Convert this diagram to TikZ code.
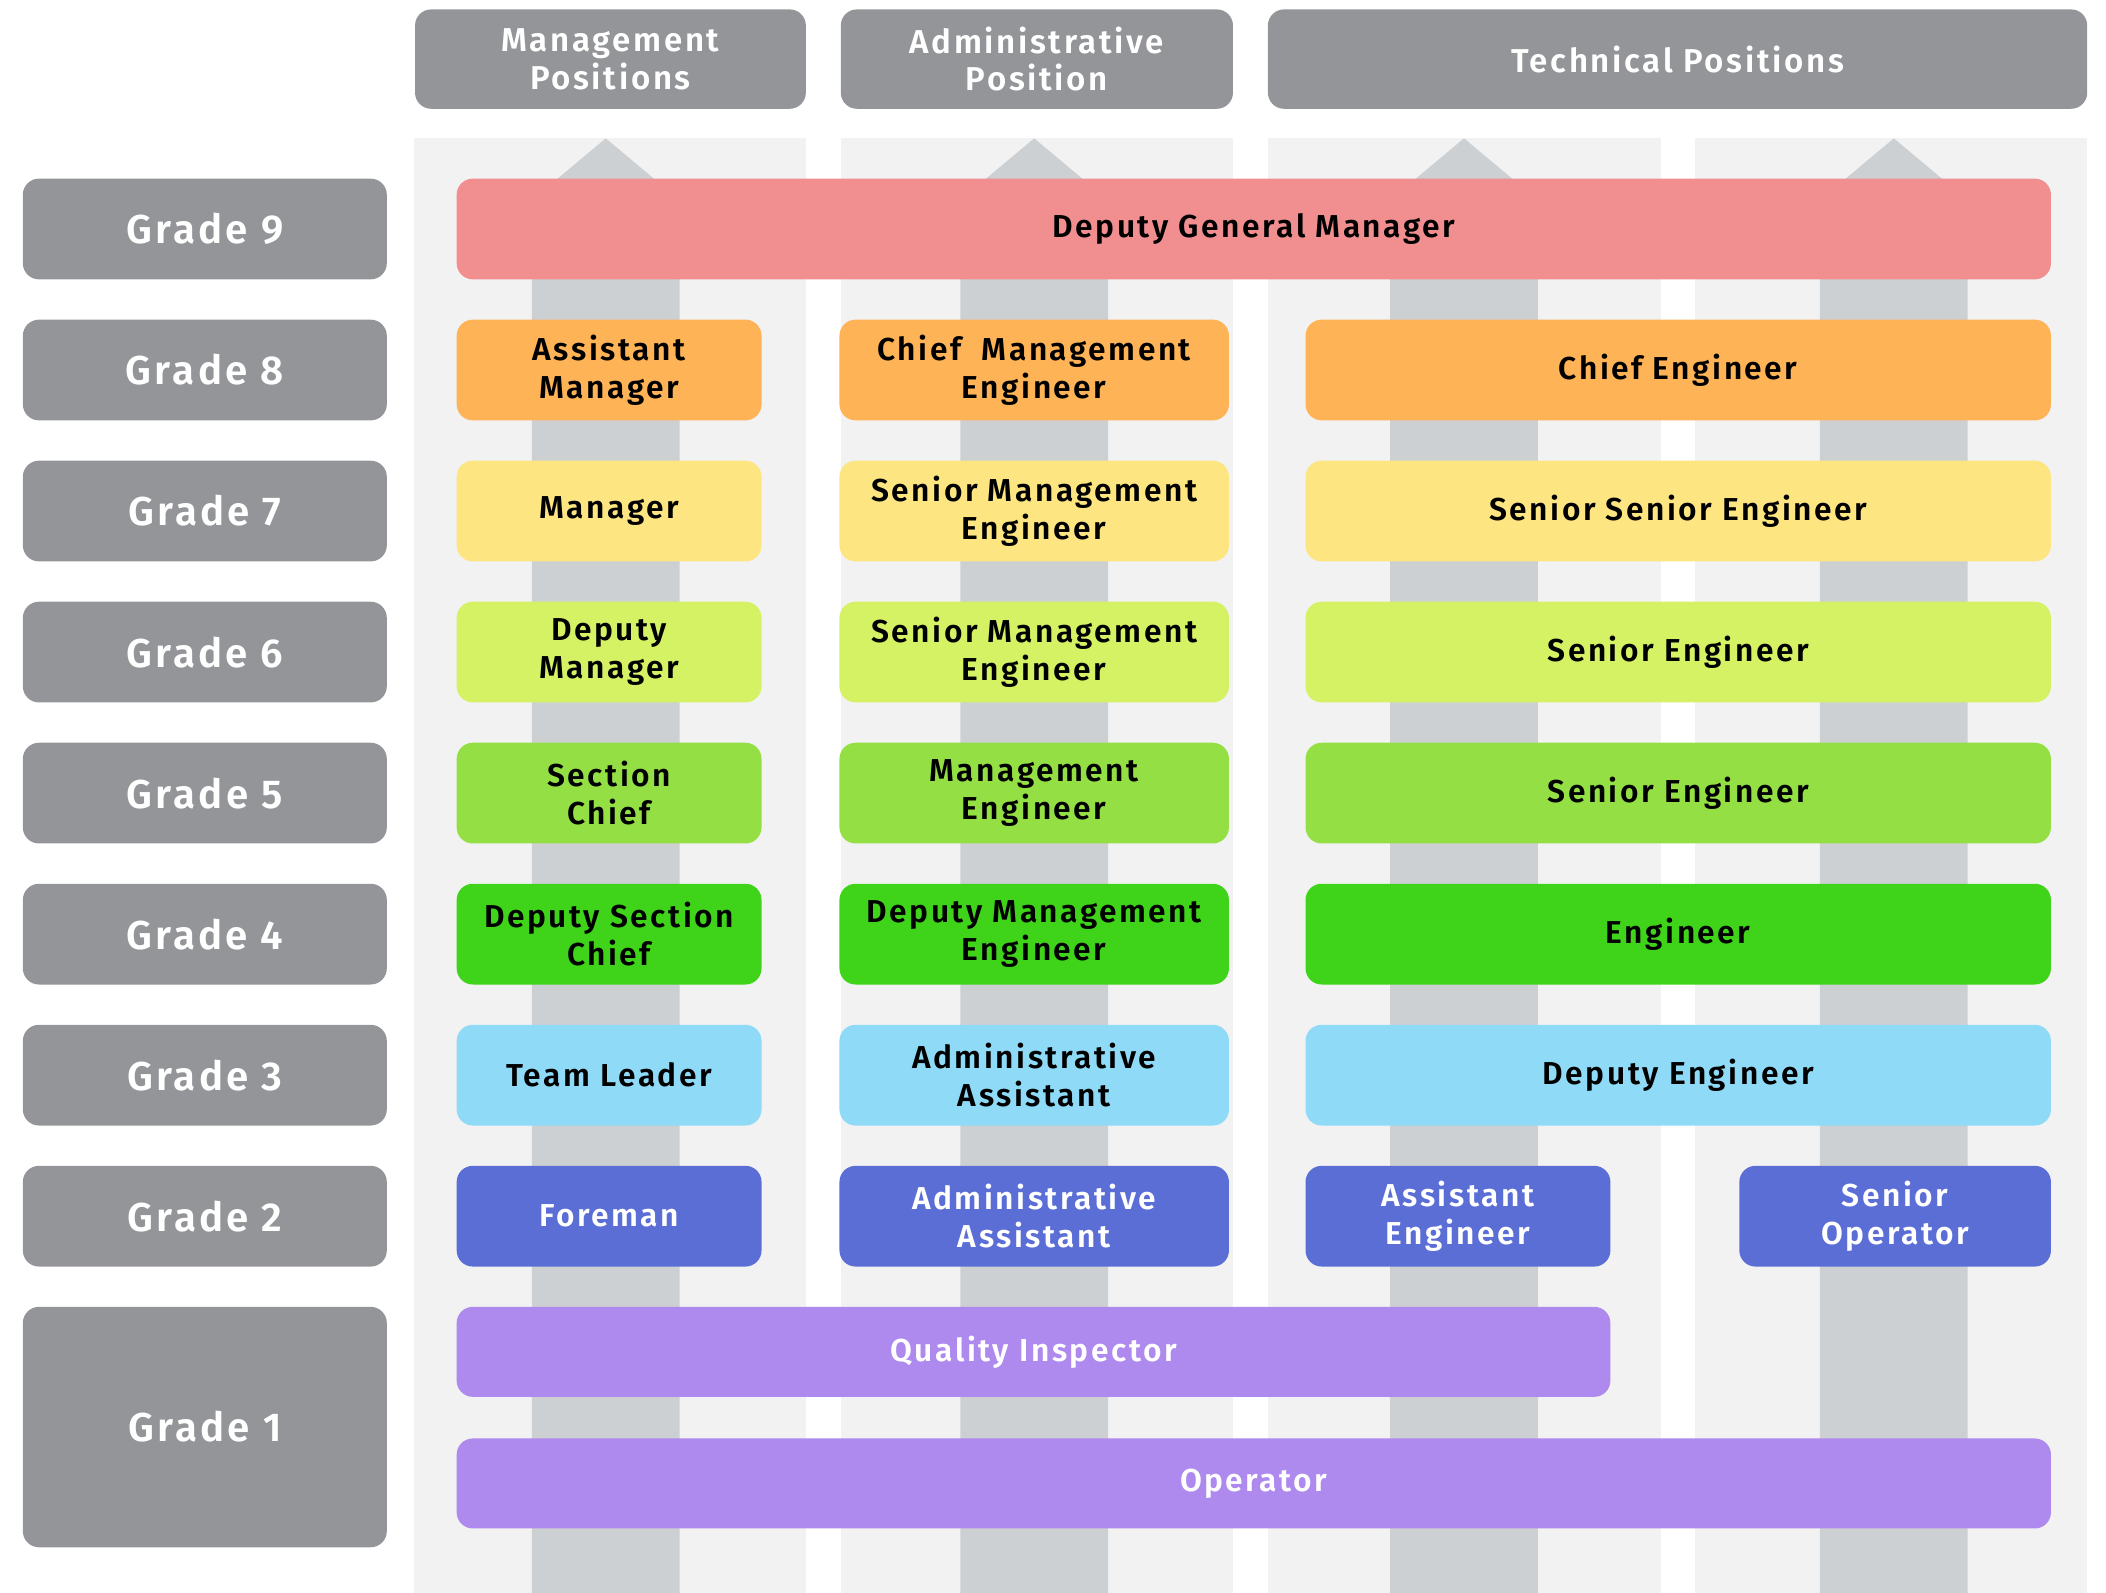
\documentclass[tikz,border=0pt]{standalone}
\usepackage{fontspec}
\setmainfont{Fira Sans}[BoldFont={Fira Sans SemiBold}, LetterSpace=8]
\usetikzlibrary{positioning}

\definecolor{gradegray}{HTML}{939598}
\definecolor{bandgray}{HTML}{F2F2F2}
\definecolor{arrowgray}{HTML}{CDD0D3}
\definecolor{gnine}{HTML}{F08E90}
\definecolor{geight}{HTML}{FDB356}
\definecolor{gseven}{HTML}{FDE681}
\definecolor{gsix}{HTML}{D4F263}
\definecolor{gfive}{HTML}{94E044}
\definecolor{gfour}{HTML}{3FD41A}
\definecolor{gthree}{HTML}{8EDAF7}
\definecolor{gtwo}{HTML}{5B6ED6}
\definecolor{gone}{HTML}{AE89EE}

\tikzset{
  greybox/.style={fill=gradegray, rounded corners=6pt, text=white,
    font=\bfseries, align=center, inner sep=0pt},
  gradebox/.style={greybox, minimum width=135.5pt, minimum height=37.5pt,
    font=\fontsize{15}{18}\selectfont\bfseries},
  headbox/.style={greybox, minimum height=37pt,
    font=\fontsize{12.3}{14}\selectfont\bfseries},
  posbox/.style={fill=#1, rounded corners=6pt, align=center, inner sep=0pt,
    minimum height=37.5pt, font=\fontsize{11.8}{14}\selectfont\bfseries},
  colA/.style={minimum width=113.5pt},
  colB/.style={minimum width=145pt},
  colC/.style={minimum width=277.5pt},
  rise/.style={fill=arrowgray},
}

\begin{document}
\begin{tikzpicture}[x=0.5pt,y=-0.5pt]
\useasboundingbox (0,0) rectangle (1568,1186);

% column bands
\fill[bandgray] (308,103) rectangle (600,1186);
\fill[bandgray] (626,103) rectangle (918,1186);
\fill[bandgray] (944,103) rectangle (1237,1186);
\fill[bandgray] (1262,103) rectangle (1554,1186);

% upward arrows
\foreach \c in {451,770,1090,1410}
  \fill[rise] (\c-55,1186) -- (\c-55,170) -- (\c-80,170) -- (\c,103)
    -- (\c+80,170) -- (\c+55,170) -- (\c+55,1186) -- cycle;

% headers
\node[headbox, minimum width=145.5pt] (mgmt) at (454.5,44) {Management\\Positions};
\node[headbox, minimum width=146pt] (admin) at (772,44) {Administrative\\Position};
\node[headbox, minimum width=305pt] (tech) at (1249,44) {Technical Positions};

% grades
\foreach \g in {9,...,2}
  \node[gradebox] (grade\g) at (152.5,{170.5+105*(9-\g)}) {Grade \g};
\node[gradebox, minimum height=89.5pt] (grade1) at (152.5,1062.5) {Grade 1};

% grade 9
\node[posbox=gnine, minimum width=593.5pt] (dgm) at (933.5,170.5) {Deputy General Manager};

% grade 8
\node[posbox=geight, colA] (asstmgr) at (453.5,275.5) {Assistant\\Manager};
\node[posbox=geight, colB] (chiefmeng) at (770,275.5) {Chief~ Management\\Engineer};
\node[posbox=geight, colC] (chiefeng) at (1249.5,275.5) {Chief Engineer};

% grade 7
\node[posbox=gseven, colA] (mgr) at (453.5,380.5) {Manager};
\node[posbox=gseven, colB] (srmeng7) at (770,380.5) {Senior Management\\Engineer};
\node[posbox=gseven, colC] (srsreng) at (1249.5,380.5) {Senior Senior Engineer};

% grade 6
\node[posbox=gsix, colA] (dpmgr) at (453.5,485.5) {Deputy\\Manager};
\node[posbox=gsix, colB] (srmeng6) at (770,485.5) {Senior Management\\Engineer};
\node[posbox=gsix, colC] (sreng6) at (1249.5,485.5) {Senior Engineer};

% grade 5
\node[posbox=gfive, colA] (secchief) at (453.5,590.5) {Section\\Chief};
\node[posbox=gfive, colB] (meng) at (770,590.5) {Management\\Engineer};
\node[posbox=gfive, colC] (sreng5) at (1249.5,590.5) {Senior Engineer};

% grade 4
\node[posbox=gfour, colA] (dpsec) at (453.5,695.5) {Deputy Section\\Chief};
\node[posbox=gfour, colB] (dpmeng) at (770,695.5) {Deputy Management\\Engineer};
\node[posbox=gfour, colC] (eng) at (1249.5,695.5) {Engineer};

% grade 3
\node[posbox=gthree, colA] (teamlead) at (453.5,800.5) {Team Leader};
\node[posbox=gthree, colB] (adminasst3) at (770,800.5) {Administrative\\Assistant};
\node[posbox=gthree, colC] (dpeng) at (1249.5,800.5) {Deputy Engineer};

% grade 2
\node[posbox=gtwo, colA, text=white] (foreman) at (453.5,905.5) {Foreman};
\node[posbox=gtwo, colB, text=white] (adminasst2) at (770,905.5) {Administrative\\Assistant};
\node[posbox=gtwo, colA, text=white] (assteng) at (1085.5,905.5) {Assistant\\Engineer};
\node[posbox=gtwo, minimum width=116pt, text=white] (srop) at (1411,905.5) {Senior\\Operator};

% grade 1
\node[posbox=gone, minimum width=429.5pt, minimum height=33.5pt, text=white] (qi) at (769.5,1006.5) {Quality Inspector};
\node[posbox=gone, minimum width=593.5pt, minimum height=33.5pt, text=white] (op) at (933.5,1104.5) {Operator};
\end{tikzpicture}
\end{document}
